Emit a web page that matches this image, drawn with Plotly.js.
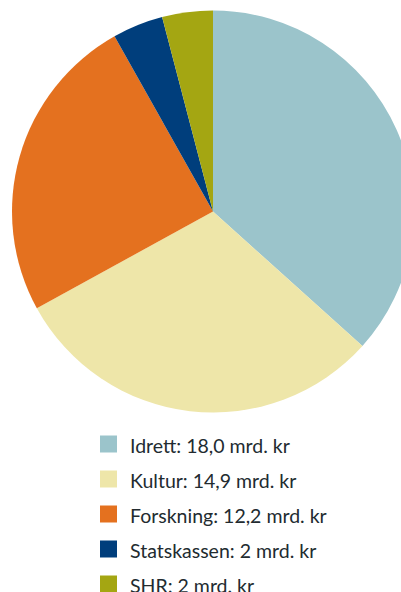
<!DOCTYPE html>
<html><head><meta charset="utf-8">
<script src="https://cdn.plot.ly/plotly-3.0.1.min.js"></script>
<style>html,body{margin:0;padding:0;overflow:hidden;background:#fff;width:401px;height:592px}</style>
</head><body><div id="chart"></div>
<script>
const categories = ["Idrett", "Kultur", "Forskning", "Statskassen", "SHR"];
const values = [18.0, 14.9, 12.2, 2, 2];
const valueLabels = ["18,0", "14,9", "12,2", "2", "2"];
const colors = ["#9bc4cb", "#eee6a9", "#e4711f", "#003e7c", "#a4a612"];

const W = 430, H = 592;
const px = x => x / W;
const py = y => 1 - y / H;

const shapes = [], annotations = [];
categories.forEach((c, i) => {
  const cy = 444 + i * 35;
  shapes.push({type: "rect", xref: "paper", yref: "paper",
    x0: px(100), x1: px(117), y0: py(cy + 8.5), y1: py(cy - 8.5),
    fillcolor: colors[i], line: {width: 0}});
  annotations.push({xref: "paper", yref: "paper", x: px(128), y: py(cy + 1),
    xanchor: "left", yanchor: "middle", showarrow: false,
    text: c + ": " + valueLabels[i] + " mrd. kr",
    font: {family: "Lato, 'Open Sans', sans-serif", size: 19.5, color: "#222b30"}});
});

Plotly.newPlot("chart", [{
  type: "pie", labels: categories, values: values, sort: false,
  direction: "clockwise", rotation: 0,
  marker: {colors: colors, line: {width: 0}},
  textinfo: "none", hoverinfo: "none", showlegend: false,
  domain: {x: [px(12), px(414)], y: [py(412.5), py(10.5)]}
}], {
  width: W, height: H, margin: {l: 0, r: 0, t: 0, b: 0},
  paper_bgcolor: "#fff", showlegend: false,
  shapes: shapes, annotations: annotations
}, {displayModeBar: false, staticPlot: true});
</script></body></html>
